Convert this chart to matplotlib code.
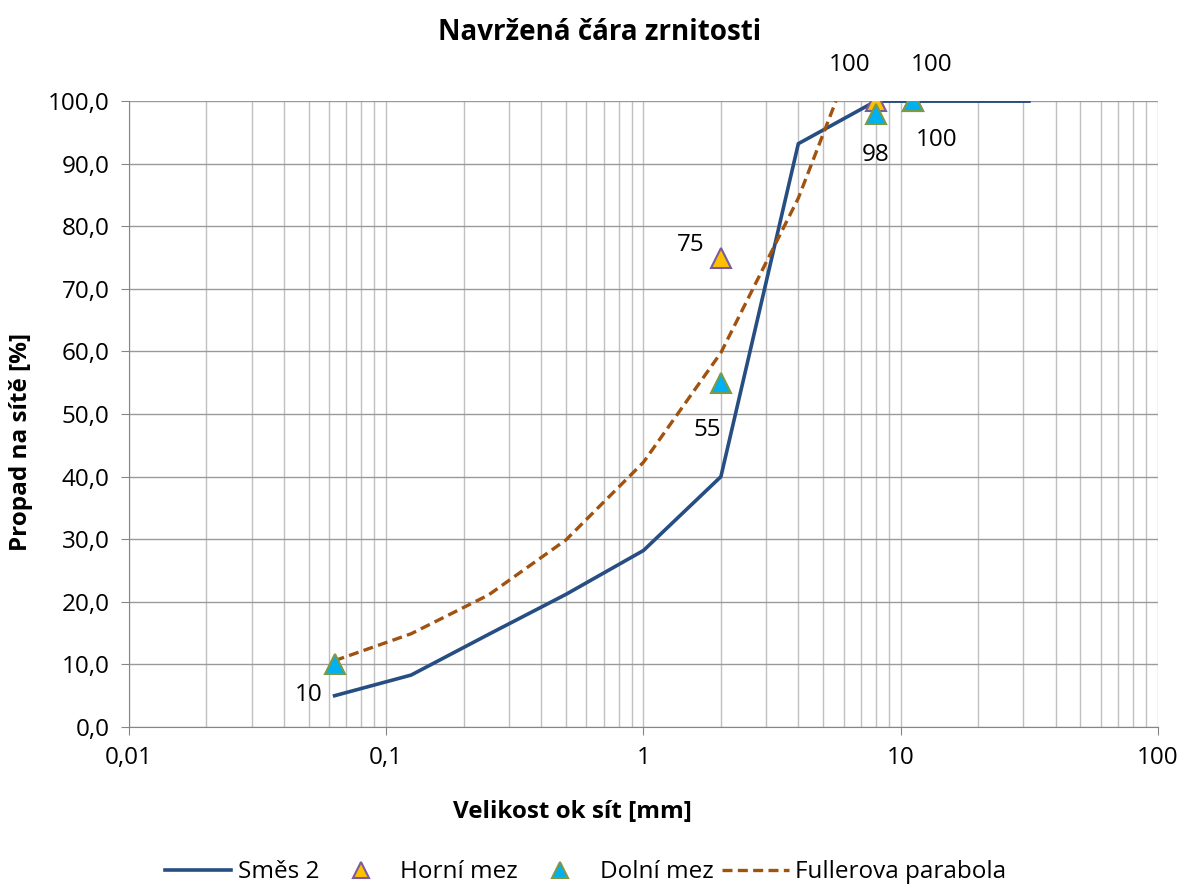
import matplotlib
matplotlib.use("Agg")
import matplotlib.pyplot as plt
from matplotlib.ticker import FixedLocator, FuncFormatter, LogLocator, NullFormatter

plt.rcParams['font.family'] = ['Open Sans', 'DejaVu Sans']

sieve_mix = [0.063, 0.125, 0.25, 0.5, 1, 2, 4, 8, 11.2, 16, 22.4, 31.5]
mix2 = [5.0, 8.3, 14.8, 21.2, 28.2, 40.0, 93.2, 100.0, 100.0, 100.0, 100.0, 100.0]

sieve_upper = [2, 8, 11.2]
upper = [75, 100, 100]

sieve_lower = [0.063, 2, 8, 11.2]
lower = [10, 55, 98, 100]

sieve_fuller = [0.063, 0.125, 0.25, 0.5, 1, 2, 4, 5.6]
fuller = [10.6, 14.9, 21.1, 29.9, 42.3, 59.8, 84.5, 100.0]

x_ticks = [0.01, 0.1, 1, 10, 100]
x_labels = ["0,01", "0,1", "1", "10", "100"]

FS = 17.5

fig = plt.figure(figsize=(11.8, 8.84), dpi=100)
ax = fig.add_axes([0.1093, 0.1776, 0.872, 0.708])

ax.set_xscale('log')
ax.set_xlim(0.01, 100)
ax.set_ylim(0, 100)

ax.xaxis.set_major_locator(FixedLocator(x_ticks))
ax.xaxis.set_major_formatter(FuncFormatter(lambda v, p: x_labels[x_ticks.index(v)] if v in x_ticks else ""))
ax.xaxis.set_minor_locator(LogLocator(base=10, subs=range(2, 10), numticks=20))
ax.xaxis.set_minor_formatter(NullFormatter())
ax.set_yticks(range(0, 101, 10))
ax.yaxis.set_major_formatter(FuncFormatter(lambda v, p: f"{v:.1f}".replace('.', ',')))

ax.grid(True, which='both', axis='x', color='#C0C0C0', lw=1.0)
ax.grid(True, which='major', axis='y', color='#9A9A9A', lw=1.0)
ax.set_axisbelow(True)
for s in ['top', 'right']:
    ax.spines[s].set_visible(False)
for s in ['left', 'bottom']:
    ax.spines[s].set_color('#868686')
ax.tick_params(axis='both', which='minor', length=0)
ax.tick_params(axis='both', which='major', length=6, color='#868686', direction='out', labelsize=FS, pad=8)

l1, = ax.plot(sieve_mix, mix2, color='#264E82', lw=2.6, label='Směs 2', zorder=3)
l4, = ax.plot(sieve_fuller, fuller, color='#A0520E', lw=2.4, ls=(0, (3, 1.6)), label='Fullerova parabola', zorder=3)
l2, = ax.plot(sieve_upper, upper, ls='none', marker='^', ms=15, mfc='#FFC000', mec='#7A5C9C', mew=1.5, label='Horní mez', zorder=4)
l3, = ax.plot(sieve_lower, lower, ls='none', marker='^', ms=15, mfc='#00B0F0', mec='#7C9A46', mew=1.5, label='Dolní mez', zorder=5)

upper_offsets = [(-22, 9), (-19, 26), (13, 26)]
for x, y, off in zip(sieve_upper, upper, upper_offsets):
    ax.annotate(f"{y}", (x, y), xytext=off, textcoords='offset points', fontsize=FS, ha='center', va='center', annotation_clip=False)
lower_offsets = [(-19, -22), (-10, -34), (0, -30), (17, -28)]
for x, y, off in zip(sieve_lower, lower, lower_offsets):
    ax.annotate(f"{y}", (x, y), xytext=off, textcoords='offset points', fontsize=FS, ha='center', va='center', annotation_clip=False)

fig.text(0.508, 0.963, 'Navržená čára zrnitosti', fontsize=20, fontweight='bold', ha='center', va='center')
fig.text(0.485, 0.0814, 'Velikost ok sít [mm]', fontsize=FS, fontweight='bold', ha='center', va='center')
fig.text(0.018, 0.5, 'Propad na sítě [%]', fontsize=FS, fontweight='bold', ha='center', va='center', rotation=90)

leg = fig.legend(handles=[l1, l2, l3, l4], loc='center', bbox_to_anchor=(0.496, 0.0135), ncol=4, frameon=False,
                 fontsize=FS, handlelength=2.75, columnspacing=0.35, handletextpad=0.25, borderpad=0)
for h in leg.legend_handles[1:3]:
    h.set_markersize(11)

fig.savefig('out.png', dpi=100)
